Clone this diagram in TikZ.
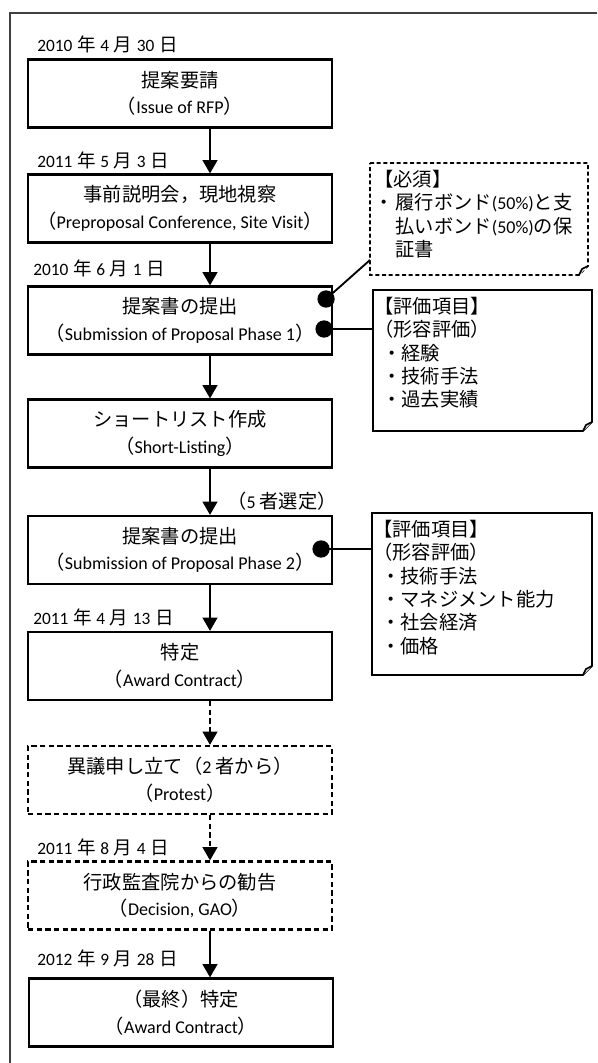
\documentclass[tikz,border=0pt]{standalone}
\usepackage{fontspec}
\setmainfont{Carlito}
\newfontfamily\cjk[Scale=1.07]{Noto Sans CJK JP}
\newcommand{\ja}[1]{{\cjk #1}}
\newcommand{\ymd}[3]{#1\hspace{3.5pt}\ja{年}\hspace{3.5pt}#2\hspace{3.5pt}\ja{月}\hspace{3.5pt}#3\hspace{3.5pt}\ja{日}}
\usetikzlibrary{arrows.meta,calc}
\newcommand{\foldnote}[2][]{%
  \draw[line width=1.2pt,#1] (#2.north west) -- (#2.north east) -- ($(#2.south east)+(0,-9)$) -- ($(#2.south east)+(-9,0)$) -- (#2.south west) -- cycle;
  \draw[line width=1.2pt,#1,solid,fill=white] ($(#2.south east)+(-9,0)$) -- ($(#2.south east)+(-6,-6)$) -- ($(#2.south east)+(0,-9)$);}
\tikzset{
  stage/.style={draw, line width=1.6pt, minimum width=228pt, minimum height=51pt, align=center, inner sep=0pt, font=\fontsize{13.5}{20}\selectfont},
  maybe/.style={stage, dash pattern=on 4pt off 2.5pt},
  datelbl/.style={anchor=west, inner sep=0pt, font=\fontsize{13}{15}\selectfont},
  flow/.style={line width=1.7pt, -{Triangle[width=11pt,length=10pt]}},
  maybeflow/.style={flow, dash pattern=on 4pt off 2.5pt},
  notebox/.style={inner sep=0pt, outer sep=0pt},
  notetxt/.style={anchor=north west, align=left, inner sep=0pt, font=\fontsize{13.5}{17.5}\selectfont},
  link/.style={line width=1.4pt}
}
\begin{document}
\begin{tikzpicture}[x=0.75pt,y=-0.75pt]
			%%%%% START %%%%%
			\def\sx{30}
			\def\dr{6.5pt}
			\useasboundingbox (0,0) rectangle (597,1063);
			\draw[line width=1pt, black!75] (10,1063) -- (10,13) -- (597,13);
			
			\node[datelbl] (t1) at (37,44) {\ymd{2010}{4}{30}};
			\node[stage] (b1) at (180,93.5) {\ja{提案要請}\\\ja{（}Issue of RFP\ja{）}};
			
			\node[datelbl] (t2) at (37,160) {\ymd{2011}{5}{3}};
			\node[stage] (b2) at (180,208.5) {\ja{事前説明会，現地視察}\\\ja{（}Preproposal Conference, Site Visit\ja{）}};
			
			\node[datelbl] (t3) at (33,268) {\ymd{2010}{6}{1}};
			\node[stage] (b3) at (180,320.5) {\ja{提案書の提出}\\\ja{（}Submission of Proposal Phase 1\ja{）}};
			
			\node[stage] (b4) at (180,433.5) {\ja{ショートリスト作成}\\\ja{（}Short-Listing\ja{）}};
			
			\node[notetxt, anchor=center, font=\fontsize{13.5}{20}\selectfont] (sel) at (282,501) {\ja{（}5 \ja{者選定）}};
			\node[stage] (b5) at (180,550) {\ja{提案書の提出}\\\ja{（}Submission of Proposal Phase 2\ja{）}};
			
			\node[datelbl] (t6) at (33,617) {\ymd{2011}{4}{13}};
			\node[stage] (b6) at (180,666) {\ja{特定}\\\ja{（}Award Contract\ja{）}};
			
			\node[maybe] (b7) at (180,780) {\ja{異議申し立て（}2 \ja{者から）}\\\ja{（}Protest\ja{）}};
			
			\node[datelbl] (t8) at (37,847) {\ymd{2011}{8}{4}};
			\node[maybe] (b8) at (180,895.5) {\ja{行政監査院からの勧告}\\\ja{（}Decision, GAO\ja{）}};
			
			\node[datelbl] (t9) at (37,958) {\ymd{2012}{9}{28}};
			\node[stage] (b9) at (181,1012.5) {\ja{（最終）特定}\\\ja{（}Award Contract\ja{）}};
			
			\draw[flow] ($(b1.south)+(\sx,0)$) -- ($(b2.north)+(\sx,0)$);
			\draw[flow] ($(b2.south)+(\sx,0)$) -- ($(b3.north)+(\sx,0)$);
			\draw[flow] ($(b3.south)+(\sx,0)$) -- ($(b4.north)+(\sx,0)$);
			\draw[flow] ($(b4.south)+(\sx,0)$) -- ($(b5.north)+(\sx,0)$);
			\draw[flow] ($(b5.south)+(\sx,0)$) -- ($(b6.north)+(\sx,0)$);
			\draw[maybeflow] ($(b6.south)+(\sx,0)$) -- ($(b7.north)+(\sx,0)$);
			\draw[maybeflow] ($(b7.south)+(\sx,0)$) -- ($(b8.north)+(\sx,0)$);
			\draw[flow] ($(b8.south)+(\sx,0)$) -- ($(b9.north)+(\sx-1,0)$);
			
			% notes
			\node[notebox, minimum width=163.5pt, minimum height=84pt] (req) at (479,219) {};
			\foldnote[dash pattern=on 3pt off 2pt]{req}
			\node[notetxt] (reqt) at ($(req.north west)+(4,7)$) {\ja{【必須】}\\\ja{・}\hspace{1.5pt}\ja{履行ボンド}(50\%)\ja{と支}\\\phantom{\ja{・}}\hspace{1.5pt}\ja{払いボンド}(50\%)\ja{の保}\\\phantom{\ja{・}}\hspace{1.5pt}\ja{証書}};
			
			\node[notebox, minimum width=164.25pt, minimum height=105.75pt] (ev1) at (482.5,360.5) {};
			\foldnote{ev1}
			\node[notetxt] (ev1t) at ($(ev1.north west)+(1,7)$) {\ja{【評価項目】}\\\ja{（形容評価）}\\\hspace*{6pt}\ja{・経験}\\\hspace*{6pt}\ja{・技術手法}\\\hspace*{6pt}\ja{・過去実績}};
			
			\node[notebox, minimum width=165pt, minimum height=121.5pt] (ev2) at (482,594) {};
			\foldnote{ev2}
			\node[notetxt] (ev2t) at ($(ev2.north west)+(1,7)$) {\ja{【評価項目】}\\\ja{（形容評価）}\\\hspace*{6pt}\ja{・技術手法}\\\hspace*{6pt}\ja{・マネジメント能力}\\\hspace*{6pt}\ja{・社会経済}\\\hspace*{6pt}\ja{・価格}};
			
			% links
			\coordinate (d1) at ($(b3.east)+(-7,-21.5)$);
			\coordinate (d2) at ($(b3.east)+(-9,8.5)$);
			\coordinate (d3) at ($(b5.east)+(-12,-1)$);
			\coordinate (r1) at ($(req.south west)+(0,-15)$);
			\draw[link] (d1) -- (r1);
			\draw[link] (d2) -- (d2 -| ev1.west);
			\draw[link] (d3) -- (d3 -| ev2.west);
			\fill (d1) circle[radius=\dr];
			\fill (d2) circle[radius=\dr];
			\fill (d3) circle[radius=\dr];
			%%%%% END %%%%%
\end{tikzpicture}
\end{document}
